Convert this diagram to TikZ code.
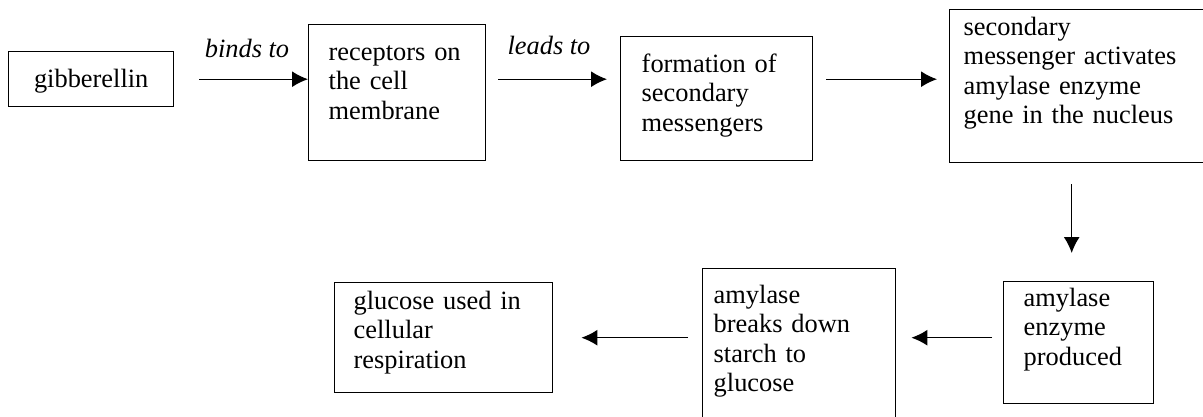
\documentclass[tikz,border=0pt]{standalone}
\usepackage{fontspec}
\setmainfont{Liberation Serif}
\usetikzlibrary{arrows.meta}

\begin{document}
\begin{tikzpicture}[x=0.5pt,y=-0.5pt,
    stepbox/.style={draw,line width=0.7pt,anchor=north west,align=left,inner ysep=0pt,
      font=\fontsize{13.2}{14.6}\selectfont},
    flecha/.style={-{Latex[length=8pt,width=8pt]},line width=0.65pt},
    rotulo/.style={anchor=base,inner sep=0pt,font=\fontsize{13.2}{14.6}\selectfont\itshape}]
    \clip (0,0) rectangle (1203,417);
    % top row
    \node[stepbox,align=center,inner xsep=0pt,text width=82.5pt,text height=18pt,text depth=9.5pt] (gib) at (8,51)
      {gibberellin};
    \node[stepbox,inner xsep=10pt,text width=68.5pt,text height=18pt,text depth=50pt] (rec) at (308,24)
      {receptors on\\the cell\\membrane};
    \node[stepbox,inner xsep=10.5pt,text width=75pt,text height=18pt,text depth=44pt] (form) at (620,36)
      {formation of\\secondary\\messengers};
    \node[stepbox,inner xsep=7pt,text width=116.5pt,text height=13pt,text depth=63.5pt] (sec) at (949,9)
      {secondary\\messenger activates\\amylase enzyme\\gene in the nucleus};
    % bottom row
    \node[stepbox,inner xsep=10pt,text width=55pt,text height=12.5pt,text depth=48.5pt] (prod) at (1003,281)
      {amylase\\enzyme\\produced};
    \node[stepbox,inner xsep=5.5pt,text width=85.5pt,text height=17.5pt,text depth=61pt] (brk) at (702,268)
      {amylase\\breaks down\\starch to\\glucose};
    \node[stepbox,inner xsep=9.5pt,text width=90pt,text height=13.5pt,text depth=41.5pt] (gluc) at (334,282)
      {glucose used in\\cellular\\respiration};
    % labels
    \node[rotulo] (binds) at (247,58) {binds to};
    \node[rotulo] (leads) at (549,55) {leads to};
    % arrows
    \draw[flecha,shorten <=12.5pt] (gib.east) -- (gib.east -| rec.west);
    \draw[flecha,shorten <=6pt,shorten >=6.5pt] (rec.east |- gib.east) -- (form.west |- gib.east);
    \draw[flecha,shorten <=6.5pt,shorten >=6pt] (form.east |- gib.east) -- (sec.west |- gib.east);
    \draw[flecha,shorten <=10.5pt,shorten >=14pt] ([xshift=-3.5pt]prod.north |- sec.south) -- ([xshift=-3.5pt]prod.north);
    \draw[flecha,shorten <=5.5pt,shorten >=7.5pt] (prod.west |- gluc.east) -- (brk.east |- gluc.east);
    \draw[flecha,shorten <=7pt,shorten >=14pt] (brk.west |- gluc.east) -- (gluc.east);
  \end{tikzpicture}
\end{document}
